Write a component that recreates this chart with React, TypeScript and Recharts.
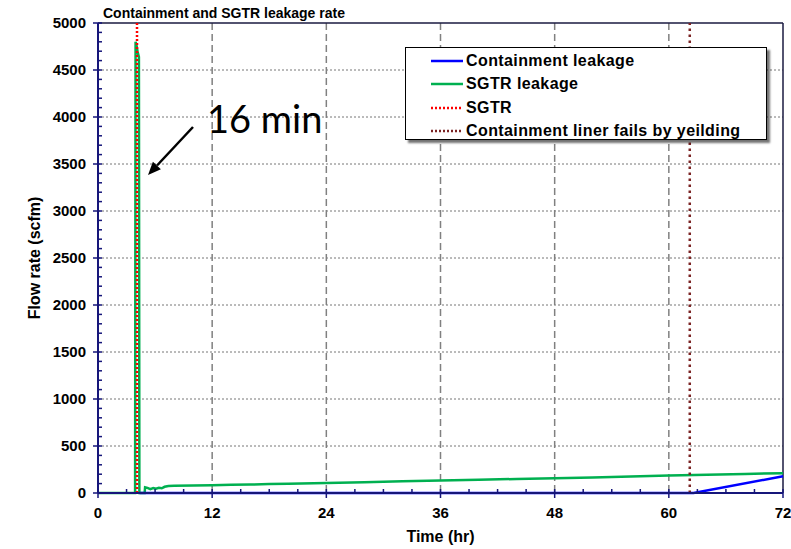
import { LineChart, Line, XAxis, YAxis, CartesianGrid, ReferenceLine, Legend } from "recharts";

// Time in hours, flow rate in scfm
const sgtrLeakage = [
  { t: 0, v: 0 },
  { t: 3.9, v: 0 },
  { t: 3.95, v: 4800 },
  { t: 4.05, v: 4760 },
  { t: 4.15, v: 4700 },
  { t: 4.3, v: 4640 },
  { t: 4.35, v: 0 },
  { t: 4.9, v: 0 },
  { t: 4.95, v: 60 },
  { t: 5.2, v: 55 },
  { t: 5.5, v: 40 },
  { t: 5.8, v: 52 },
  { t: 6.1, v: 45 },
  { t: 6.4, v: 56 },
  { t: 6.7, v: 50 },
  { t: 7.0, v: 66 },
  { t: 7.4, v: 75 },
  { t: 8, v: 76 },
  { t: 10, v: 80 },
  { t: 12, v: 83 },
  { t: 14, v: 87 },
  { t: 16, v: 90 },
  { t: 18, v: 95 },
  { t: 20, v: 98 },
  { t: 24, v: 106 },
  { t: 28, v: 115 },
  { t: 32, v: 124 },
  { t: 36, v: 133 },
  { t: 40, v: 141 },
  { t: 44, v: 149 },
  { t: 48, v: 158 },
  { t: 52, v: 166 },
  { t: 56, v: 175 },
  { t: 60, v: 185 },
  { t: 64, v: 195 },
  { t: 68, v: 203 },
  { t: 72, v: 210 },
];

const containmentLeakage = [
  { t: 4.35, v: 0 },
  { t: 62.6, v: 0 },
  { t: 72, v: 178 },
];

const SGTR_TIME = 4.1;
const LINER_FAIL_TIME = 62.2;

const xMajorTicks = [0, 12, 24, 36, 48, 60, 72];
const yMajorTicks = [0, 500, 1000, 1500, 2000, 2500, 3000, 3500, 4000, 4500, 5000];
const xMinorTicks = Array.from({ length: 25 }, (_, i) => i * 3);
const yMinorTicks = Array.from({ length: 51 }, (_, i) => i * 100);

const FONT = '"Liberation Sans", Arial, sans-serif';
const AXIS = "#16167a";
const FRAME = "#1a1a40";

const legendItems = [
  { name: "Containment leakage", color: "#0000ff", dash: undefined },
  { name: "SGTR leakage", color: "#00b050", dash: undefined },
  { name: "SGTR", color: "#ff0000", dash: "2 2" },
  { name: "Containment liner fails by yeilding", color: "#7b2323", dash: "2 2" },
];

function XTick(props: any) {
  const { x, y, payload } = props;
  const major = xMajorTicks.includes(payload.value);
  return (
    <g>
      <line x1={x} x2={x} y1={major ? y + 5 : y} y2={y - 4} stroke={AXIS} strokeWidth={1.5} />
      {major && (
        <text x={x} y={y + 25} textAnchor="middle" fontFamily={FONT} fontWeight="bold" fontSize={15} fill="#000">
          {payload.value}
        </text>
      )}
    </g>
  );
}

function YTick(props: any) {
  const { x, y, payload } = props;
  const major = yMajorTicks.includes(payload.value);
  return (
    <g>
      <line x1={major ? x - 5 : x} x2={x + 4} y1={y} y2={y} stroke={AXIS} strokeWidth={1.5} />
      {major && (
        <text x={x - 12} y={y} dy="0.36em" textAnchor="end" fontFamily={FONT} fontWeight="bold" fontSize={15} fill="#000">
          {payload.value}
        </text>
      )}
    </g>
  );
}

function LegendBox() {
  return (
    <div
      style={{
        width: 360,
        height: 91,
        border: "1.5px solid #000",
        background: "#fff",
        boxShadow: "3px 3px 2px rgba(0,0,0,0.55)",
        position: "relative",
        fontFamily: FONT,
      }}
    >
      {legendItems.map((item, i) => (
        <div
          key={item.name}
          style={{ position: "absolute", left: 24, top: 3 + i * 23.3, height: 20, display: "flex", alignItems: "center" }}
        >
          <svg width={34} height={6}>
            <line
              x1={1}
              x2={33}
              y1={3}
              y2={3}
              stroke={item.color}
              strokeWidth={2.5}
              strokeDasharray={item.dash}
            />
          </svg>
          <span style={{ marginLeft: 2, fontSize: 16, fontWeight: "bold", letterSpacing: 0.4, color: "#000" }}>
            {item.name}
          </span>
        </div>
      ))}
    </div>
  );
}

export default function App() {
  return (
    <div style={{ position: "absolute", left: 0, top: 0, width: 791, height: 549, background: "#fff" }}>
      <LineChart width={791} height={549} margin={{ top: 23, right: 8, bottom: 16, left: 38 }}>
        <CartesianGrid
          vertical={false}
          horizontalValues={yMajorTicks.slice(1, -1)}
          stroke="#777"
          strokeDasharray="2 2"
        />
        <CartesianGrid
          horizontal={false}
          verticalValues={xMajorTicks.slice(1, -1)}
          stroke="#808080"
          strokeWidth={1.5}
          strokeDasharray="7 4"
        />
        <XAxis
          type="number"
          dataKey="t"
          domain={[0, 72]}
          ticks={xMinorTicks}
          interval={0}
          height={40}
          tickSize={0}
          tickMargin={0}
          tickLine={false}
          tick={<XTick />}
          axisLine={{ stroke: AXIS, strokeWidth: 2 }}
          label={{
            content: (p: any) => (
              <text
                x={p.viewBox.x + p.viewBox.width / 2}
                y={p.viewBox.y + 49}
                textAnchor="middle"
                fontFamily={FONT}
                fontWeight="bold"
                fontSize={16}
              >
                Time (hr)
              </text>
            ),
          }}
        />
        <YAxis
          type="number"
          domain={[0, 5000]}
          ticks={yMinorTicks}
          interval={0}
          width={60}
          tickSize={0}
          tickMargin={0}
          tickLine={false}
          tick={<YTick />}
          axisLine={{ stroke: AXIS, strokeWidth: 2 }}
          label={{
            content: (p: any) => {
              const cx = p.viewBox.x + 2;
              const cy = p.viewBox.y + p.viewBox.height / 2;
              return (
                <text
                  transform={`translate(${cx},${cy}) rotate(-90)`}
                  textAnchor="middle"
                  fontFamily={FONT}
                  fontWeight="bold"
                  fontSize={16}
                >
                  Flow rate (scfm)
                </text>
              );
            },
          }}
        />
        <ReferenceLine y={5000} stroke={FRAME} strokeWidth={1.5} />
        <ReferenceLine x={72} stroke={FRAME} strokeWidth={1.5} />
        <Line
          data={sgtrLeakage}
          dataKey="v"
          name="SGTR leakage"
          stroke="#00b050"
          strokeWidth={2.5}
          dot={false}
          isAnimationActive={false}
        />
        <Line
          data={containmentLeakage}
          dataKey="v"
          name="Containment leakage"
          stroke="#0000ff"
          strokeWidth={2.5}
          dot={false}
          isAnimationActive={false}
        />
        <ReferenceLine x={SGTR_TIME} stroke="#ff0000" strokeWidth={2.5} strokeDasharray="2 2" />
        <ReferenceLine x={LINER_FAIL_TIME} stroke="#7b2323" strokeWidth={2.5} strokeDasharray="2.5 3.5" />
        <Legend
          layout="vertical"
          align="center"
          verticalAlign="middle"
          wrapperStyle={{ left: 405, top: 47, width: 365, height: 95 }}
          content={() => <LegendBox />}
        />
      </LineChart>
      <svg width={791} height={549} style={{ position: "absolute", left: 0, top: 0, pointerEvents: "none" }}>
        <text x={103} y={18} fontFamily={FONT} fontWeight="bold" fontSize={14} fill="#000">
          Containment and SGTR leakage rate
        </text>
        <text x={207} y={133} fontFamily="Lato, 'Open Sans', sans-serif" fontSize={38} fill="#000">
          16 min
        </text>
        <line x1={193} y1={127} x2={157} y2={165.5} stroke="#000" strokeWidth={2.5} />
        <polygon points="148,175 160.9,169.3 152.9,161.7" fill="#000" />
      </svg>
    </div>
  );
}
